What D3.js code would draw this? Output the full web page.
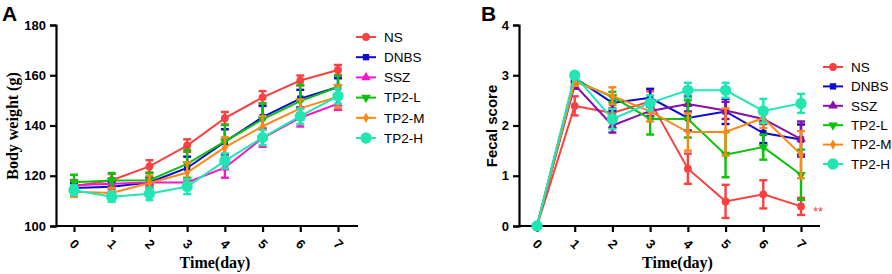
<!DOCTYPE html>
<html>
<head>
<meta charset="utf-8">
<script src="https://cdn.jsdelivr.net/npm/d3@7"></script>
<style>
  body { margin: 0; background: #fff; }
  svg { display: block; }
</style>
</head>
<body>
<svg id="chart" width="892" height="274"></svg>
<script>

//
// DATA
//

const days = [0, 1, 2, 3, 4, 5, 6, 7];
const groups = ['NS', 'DNBS', 'SSZ', 'TP2-L', 'TP2-M', 'TP2-H'];

// body weight (g), mean and error
const weightNS   = [115.8, 118.2, 123.7, 132.0, 142.9, 151.2, 157.9, 162.1];
const weightDNBS = [115.1, 115.6, 117.3, 123.1, 133.5, 143.3, 150.7, 155.3];
const weightSSZ  = [116.2, 116.8, 117.3, 117.3, 123.2, 135.0, 143.1, 148.7];
const weightTPL  = [117.4, 118.1, 118.2, 124.7, 133.7, 142.4, 149.7, 155.3];
const weightTPM  = [113.6, 113.1, 117.1, 121.3, 131.3, 139.7, 146.8, 151.5];
const weightTPH  = [114.2, 111.6, 112.8, 115.7, 125.9, 135.2, 143.7, 151.7];

const weightErrNS   = [2.5, 2.5, 2.5, 2.5, 2.5, 2.5, 2, 2];
const weightErrDNBS = [2, 2, 2, 4.5, 5, 4.5, 3.5, 3.5];
const weightErrSSZ  = [2, 2, 1.5, 1.5, 4, 3.5, 3.5, 2.5];
const weightErrTPL  = [3, 3, 3, 5.5, 6.5, 6.5, 6.5, 4.5];
const weightErrTPM  = [2, 2, 3, 4, 4, 4, 3.5, 4.5];
const weightErrTPH  = [2, 2, 2.5, 3, 3, 3, 3, 3];

// fecal score, mean and error
const fecalNS   = [0, 2.39, 2.25, 2.48, 1.14, 0.49, 0.63, 0.39];
const fecalDNBS = [0, 2.95, 2.45, 2.55, 2.15, 2.28, 1.85, 1.72];
const fecalSSZ  = [0, 2.81, 2.00, 2.29, 2.43, 2.30, 2.13, 1.73];
const fecalTPL  = [0, 2.90, 2.57, 2.13, 2.13, 1.42, 1.57, 1.02];
const fecalTPM  = [0, 2.87, 2.59, 2.28, 1.87, 1.87, 2.15, 1.42];
const fecalTPH  = [0, 3.00, 2.13, 2.45, 2.70, 2.70, 2.29, 2.44];

const fecalErrNS   = [0, 0.19, 0.1, 0.2, 0.3, 0.33, 0.28, 0.17];
const fecalErrDNBS = [0, 0.08, 0.15, 0.18, 0.25, 0.25, 0.2, 0.3];
const fecalErrSSZ  = [0, 0.08, 0.14, 0.1, 0.15, 0.17, 0.1, 0.35];
const fecalErrTPL  = [0, 0.08, 0.1, 0.31, 0.37, 0.45, 0.25, 0.5];
const fecalErrTPM  = [0, 0.08, 0.17, 0.2, 0.37, 0.47, 0.2, 0.47];
const fecalErrTPH  = [0, 0.06, 0.2, 0.15, 0.15, 0.15, 0.24, 0.19];

const weightTicks = [100, 120, 140, 160, 180];
const fecalTicks = [0, 1, 2, 3, 4];

//
// STYLE
//

const symbols = [
    {type: d3.symbolCircle, size: 48, rot: 0},
    {type: d3.symbolSquare, size: 40, rot: 0},
    {type: d3.symbolTriangle, size: 40, rot: 0},
    {type: d3.symbolTriangle, size: 40, rot: 180},
    {type: d3.symbolDiamond, size: 30, rot: 0},
    {type: d3.symbolCircle, size: 100, rot: 0},
];
const coloursA = ['#f94141', '#0a0ad2', '#f517c8', '#0cc10c', '#ff8716', '#1fe6b3'];
const coloursB = ['#f94141', '#0a0ad2', '#8a0fa8', '#0cc10c', '#ff8716', '#1fe6b3'];

const svg = d3.select('#chart');

function drawPanel(opt) {

    const x = d3.scaleLinear().domain([0, 7]).range(opt.xRange);
    const y = d3.scaleLinear().domain(opt.yDomain).range([226, 25]);
    const g = svg.append('g');

    // axes
    const yAxis = g.append('g')
        .attr('transform', `translate(${opt.axisX},0)`)
        .call(d3.axisLeft(y).tickValues(opt.yTicks).tickSize(6).tickPadding(4).tickFormat(d3.format('d')));
    const xAxis = g.append('g')
        .attr('transform', 'translate(0,226)')
        .call(d3.axisBottom(x).tickValues(days).tickSize(6).tickFormat(d3.format('d')));
    // x axis line from y axis to end
    xAxis.select('.domain').attr('d', `M${opt.axisX},0H${opt.axisEnd}`);
    [yAxis, xAxis].forEach(a => {
        a.select('.domain').attr('stroke', '#000').attr('stroke-width', 2.2);
        a.selectAll('.tick line').attr('stroke', '#000').attr('stroke-width', 2.2);
        a.selectAll('.tick text')
            .attr('fill', '#000')
            .style('font-family', 'Liberation Sans, Arial, sans-serif')
            .style('font-weight', 'bold')
            .style('font-size', '13px');
    });
    xAxis.selectAll('.tick text')
        .attr('y', 0).attr('dy', 0)
        .attr('text-anchor', 'middle')
        .attr('transform', 'translate(0,18) rotate(45)')
        .attr('dominant-baseline', 'central');

    // series
    opt.series.forEach((s, i) => {
        const col = opt.colours[i];
        const line = d3.line()
            .x((d, j) => x(days[j]))
            .y(d => y(d));
        const sg = g.append('g');

        // error bars
        const bars = sg.selectAll('.err')
            .data(s.mean.map((m, j) => ({day: days[j], m: m, e: s.err[j]})).filter(d => d.e > 0))
            .join('g');
        bars.append('line')
            .attr('x1', d => x(d.day)).attr('x2', d => x(d.day))
            .attr('y1', d => y(d.m - d.e)).attr('y2', d => y(d.m + d.e))
            .attr('stroke', col).attr('stroke-width', 2.4);
        [-1, 1].forEach(sign => {
            bars.append('line')
                .attr('x1', d => x(d.day) - 4).attr('x2', d => x(d.day) + 4)
                .attr('y1', d => y(d.m + sign * d.e)).attr('y2', d => y(d.m + sign * d.e))
                .attr('stroke', col).attr('stroke-width', 2.4);
        });

        sg.append('path')
            .datum(s.mean)
            .attr('fill', 'none')
            .attr('stroke', col)
            .attr('stroke-width', 2)
            .attr('d', line);

        const sym = symbols[i];
        sg.selectAll('.pt')
            .data(s.mean)
            .join('path')
                .attr('d', d3.symbol().type(sym.type).size(sym.size))
                .attr('transform', (d, j) => `translate(${x(days[j])},${y(d)}) rotate(${sym.rot})`)
                .attr('fill', col);
    });

    // legend
    groups.forEach((name, i) => {
        const ly = opt.legendY + i * opt.legendStep;
        const col = opt.colours[i];
        const sym = symbols[i];
        g.append('line')
            .attr('x1', opt.legendX).attr('x2', opt.legendX + 20)
            .attr('y1', ly).attr('y2', ly)
            .attr('stroke', col).attr('stroke-width', 2);
        g.append('path')
            .attr('d', d3.symbol().type(sym.type).size(sym.size))
            .attr('transform', `translate(${opt.legendX + 10},${ly}) rotate(${sym.rot})`)
            .attr('fill', col);
        g.append('text')
            .attr('x', opt.legendX + 28).attr('y', ly)
            .attr('dy', '0.35em')
            .style('font-family', 'Liberation Sans, Arial, sans-serif')
            .style('font-size', '13.5px')
            .text(name);
    });

    // titles
    g.append('text')
        .attr('x', (opt.axisX + opt.axisEnd) / 2 + 8).attr('y', 268)
        .attr('text-anchor', 'middle')
        .style('font-family', 'Liberation Serif, Times New Roman, serif')
        .style('font-weight', 'bold')
        .style('font-size', '16px')
        .text('Time(day)');
    g.append('text')
        .attr('transform', `translate(${opt.yTitleX},126) rotate(-90)`)
        .attr('text-anchor', 'middle')
        .style('font-family', opt.yTitleFont)
        .style('font-weight', 'bold')
        .style('font-size', opt.yTitleSize)
        .text(opt.yTitle);
    g.append('text')
        .attr('x', opt.letterX).attr('y', 21)
        .style('font-family', 'Liberation Sans, Arial, sans-serif')
        .style('font-weight', 'bold')
        .style('font-size', '21px')
        .text(opt.letter);

    return {x: x, y: y, g: g};
}

drawPanel({
    letter: 'A', letterX: 2,
    xRange: [74, 338], axisX: 56, axisEnd: 358,
    yDomain: [100, 180], yTicks: weightTicks,
    yTitle: 'Body weight (g)', yTitleX: 18,
    yTitleFont: 'Liberation Serif, Times New Roman, serif', yTitleSize: '16px',
    colours: coloursA,
    legendX: 356, legendY: 37, legendStep: 20.2,
    series: [
        {mean: weightNS, err: weightErrNS},
        {mean: weightDNBS, err: weightErrDNBS},
        {mean: weightSSZ, err: weightErrSSZ},
        {mean: weightTPL, err: weightErrTPL},
        {mean: weightTPM, err: weightErrTPM},
        {mean: weightTPH, err: weightErrTPH},
    ]
});

const panelB = drawPanel({
    letter: 'B', letterX: 481,
    xRange: [537, 801], axisX: 519, axisEnd: 820,
    yDomain: [0, 4], yTicks: fecalTicks,
    yTitle: 'Fecal score', yTitleX: 497,
    yTitleFont: 'Liberation Sans, Arial, sans-serif', yTitleSize: '15px',
    colours: coloursB,
    legendX: 823, legendY: 67, legendStep: 19.4,
    series: [
        {mean: fecalNS, err: fecalErrNS},
        {mean: fecalDNBS, err: fecalErrDNBS},
        {mean: fecalSSZ, err: fecalErrSSZ},
        {mean: fecalTPL, err: fecalErrTPL},
        {mean: fecalTPM, err: fecalErrTPM},
        {mean: fecalTPH, err: fecalErrTPH},
    ]
});

// significance mark next to last NS point
panelB.g.append('text')
    .attr('x', panelB.x(7) + 12).attr('y', panelB.y(fecalNS[7]))
    .attr('dy', '0.7em')
    .attr('fill', '#f94141')
    .style('font-family', 'Liberation Sans, Arial, sans-serif')
    .style('font-size', '13px')
    .text('**');

</script>
</body>
</html>
